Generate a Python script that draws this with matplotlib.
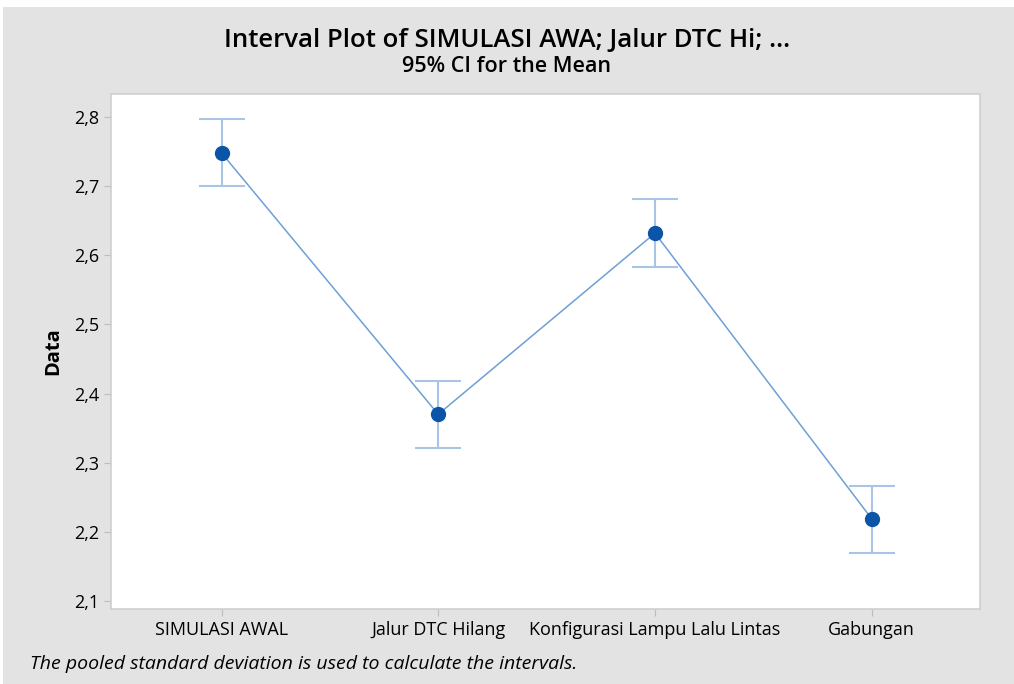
import matplotlib.pyplot as plt
from matplotlib.patches import Rectangle

plt.rcParams['font.family'] = ['Open Sans', 'DejaVu Sans']

# Means and 95% CI bounds
groups = ["SIMULASI AWAL", "Jalur DTC Hilang", "Konfigurasi Lampu Lalu Lintas", "Gabungan"]
means = [2.748, 2.370, 2.632, 2.219]
lower = [2.700, 2.321, 2.583, 2.170]
upper = [2.797, 2.418, 2.681, 2.267]
y_ticks = [2.1, 2.2, 2.3, 2.4, 2.5, 2.6, 2.7, 2.8]

W, H = 1014, 684
fig = plt.figure(figsize=(W / 100, H / 100), dpi=100, facecolor="white")
fig.patches.append(Rectangle((3 / W, 0), 1, (H - 7) / H, transform=fig.transFigure,
                             facecolor="#e3e3e3", edgecolor="none", zorder=-10))

ax = fig.add_axes([111 / W, 1 - 609 / H, (980 - 111) / W, (609 - 94) / H])
ax.set_facecolor("white")

x = list(range(len(groups)))
err_lo = [m - l for m, l in zip(means, lower)]
err_hi = [u - m for m, u in zip(means, upper)]

ax.errorbar(x, means, yerr=[err_lo, err_hi], fmt="none", ecolor="#a9c5e6",
            elinewidth=1.5, capsize=23 * 0.72, capthick=1.5, zorder=2)
ax.plot(x, means, color="#6e9fd6", lw=1.1, zorder=3)
ax.plot(x, means, "o", color="#0a55a8", markersize=10, zorder=4)

ax.set_xlim(-0.51, 3.5)
ax.set_ylim(2.0884, 2.8333)
ax.set_xticks(x)
ax.set_xticklabels(groups, fontsize=13)
ax.set_yticks(y_ticks)
ax.set_yticklabels([f"{v:.1f}".replace(".", ",") for v in y_ticks], fontsize=13)
ax.set_ylabel("Data", fontsize=14.5, fontweight="bold", labelpad=8)

for s in ax.spines.values():
    s.set_color("#cfcfcf")
    s.set_linewidth(1.2)
ax.tick_params(colors="#bdbdbd", labelcolor="black", length=5)

fig.text(0.5, 1 - 40 / H, "Interval Plot of SIMULASI AWA; Jalur DTC Hi; ...",
         ha="center", va="center", fontsize=18.5, fontweight="semibold")
fig.text(0.5, 1 - 66 / H, "95% CI for the Mean", ha="center", va="center",
         fontsize=15.5, fontweight="semibold")
fig.text(30 / W, 1 - 664 / H, "The pooled standard deviation is used to calculate the intervals.",
         ha="left", va="center", fontsize=14, style="italic")

fig.savefig("out.png", dpi=100, facecolor=fig.get_facecolor())
